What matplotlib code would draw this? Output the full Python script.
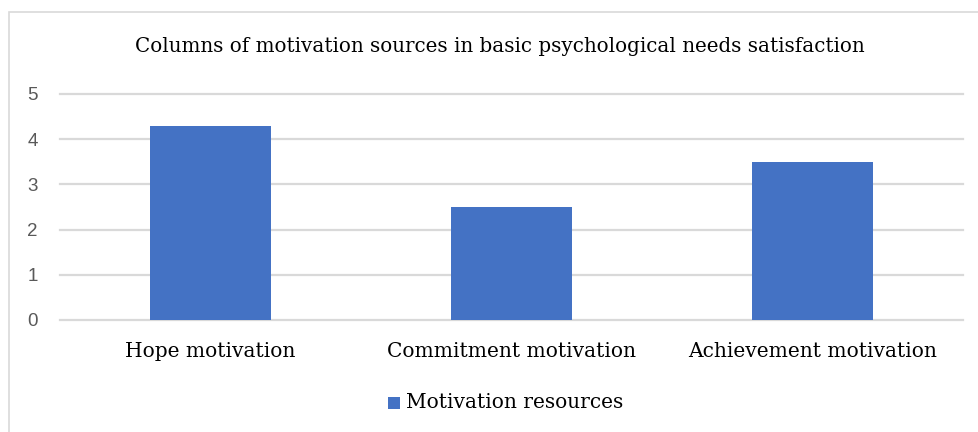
import matplotlib
matplotlib.use("Agg")
import matplotlib.pyplot as plt
from matplotlib.patches import Rectangle

categories = ["Hope motivation", "Commitment motivation", "Achievement motivation"]
values = [4.3, 2.5, 3.5]
series_name = "Motivation resources"
title = "Columns of motivation sources in basic psychological needs satisfaction"
yticks = [0, 1, 2, 3, 4, 5]

W, H = 979, 432
fig = plt.figure(figsize=(W / 100, H / 100), dpi=100)

serif = "DejaVu Serif"
sans = "Liberation Sans"

# outer chart frame (top and left edges visible)
fig.patches.append(Rectangle((9 / W, -0.1), 1.2, (H - 12) / H + 0.1,
                             transform=fig.transFigure, fill=False,
                             edgecolor="#d9d9d9", linewidth=1.2))

ax = fig.add_axes([60 / W, (H - 320) / H, 903 / W, 226 / H])
ax.bar(range(len(values)), values, width=0.4, color="#4472c4", zorder=3)
ax.set_xlim(-0.5, len(values) - 0.5)
ax.set_ylim(0, 5)
ax.set_yticks(yticks)
ax.set_yticklabels([str(t) for t in yticks], fontfamily=sans, fontsize=13.5, color="#595959")
ax.set_xticks(range(len(categories)))
ax.set_xticklabels(categories, fontfamily=serif, fontsize=14.5, color="black")
ax.tick_params(axis="both", length=0)
ax.tick_params(axis="y", pad=16)
ax.tick_params(axis="x", pad=16)
ax.grid(axis="y", color="#d9d9d9", linewidth=1.6, zorder=0)
for gl in ax.get_ygridlines():
    gl.set_clip_on(False)
for s in ax.spines.values():
    s.set_visible(False)

fig.text(500 / W, 1 - 47 / H, title, ha="center", va="center",
         fontfamily=serif, fontsize=14.3, color="black")

# legend
fig.patches.append(Rectangle((388 / W, 1 - 409 / H), 12 / W, 12 / H,
                             transform=fig.transFigure, facecolor="#4472c4",
                             edgecolor="none"))
fig.text(406 / W, 1 - 403 / H, series_name, ha="left", va="center",
         fontfamily=serif, fontsize=14.5, color="black")

fig.savefig("out.png", dpi=100)
